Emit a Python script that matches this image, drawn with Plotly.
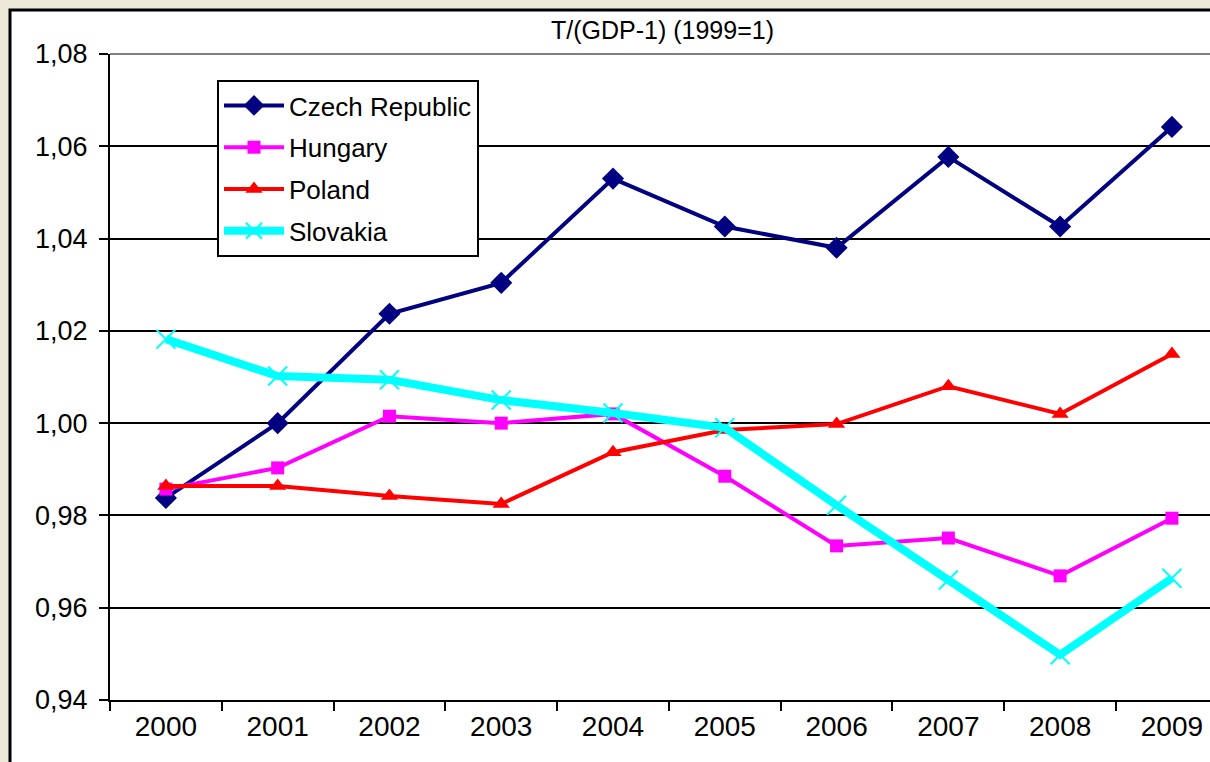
import plotly.graph_objects as go

years = ["2000", "2001", "2002", "2003", "2004", "2005", "2006", "2007", "2008", "2009"]
czech = [0.9838, 1.0000, 1.0237, 1.0304, 1.0530, 1.0426, 1.0380, 1.0577, 1.0426, 1.0642]
hungary = [0.9857, 0.9903, 1.0015, 1.0000, 1.0020, 0.9885, 0.9734, 0.9751, 0.9669, 0.9794]
poland = [0.9864, 0.9864, 0.9842, 0.9825, 0.9937, 0.9985, 0.9998, 1.0080, 1.0020, 1.0150]
slovakia = [1.0182, 1.0102, 1.0094, 1.0050, 1.0022, 0.9990, 0.9822, 0.9660, 0.9498, 0.9664]
yticks = [0.94, 0.96, 0.98, 1.00, 1.02, 1.04, 1.06, 1.08]

W, H = 1210, 762
L, R, T, B = 110, 0, 54, 62
pw, ph = W - L - R, H - T - B

def px(x):
    return (x - L) / pw

def py(y):
    return (H - B - y) / ph

fig = go.Figure()
fig.add_trace(go.Scatter(x=years, y=czech, name="Czech Republic", mode="lines+markers",
                         legendgroup="a",
                         line=dict(color="#000080", width=4),
                         marker=dict(symbol="diamond", size=17, color="#000080")))
fig.add_trace(go.Scatter(x=years, y=hungary, name="Hungary", mode="lines+markers",
                         legendgroup="b",
                         line=dict(color="#FF00FF", width=4),
                         marker=dict(symbol="square", size=13, color="#FF00FF")))
fig.add_trace(go.Scatter(x=years, y=poland, name="Poland", mode="lines+markers",
                         legendgroup="c",
                         line=dict(color="#FF0000", width=4),
                         marker=dict(symbol="triangle-up", size=15, color="#FF0000")))
fig.add_trace(go.Scatter(x=years, y=slovakia, name="Slovakia", mode="lines+markers",
                         legendgroup="d",
                         line=dict(color="#00FFFF", width=8),
                         marker=dict(symbol="x-thin", size=19, color="#00FFFF",
                                     line=dict(color="#00FFFF", width=2))))

fig.update_layout(
    width=W, height=H,
    margin=dict(l=L, r=R, t=T, b=B),
    paper_bgcolor="#ECE9D8",
    plot_bgcolor="white",
    separators=", ",
    font=dict(family="Liberation Sans, Arial, sans-serif", color="black", size=25),
    showlegend=True,
    legend=dict(x=px(217), y=py(80), xanchor="left", yanchor="top",
                bgcolor="white", bordercolor="black", borderwidth=2,
                font=dict(size=26), tracegroupgap=5, itemwidth=60),
    xaxis=dict(type="category", range=[-0.5, -0.5 + pw / 111.78],
               tickson="boundaries", ticks="outside", ticklen=9, tickwidth=2,
               tickcolor="black", showline=True, linecolor="black", linewidth=2,
               showgrid=False, tickfont=dict(size=28), fixedrange=True),
    yaxis=dict(range=[0.94, 1.08], tickvals=yticks, tickformat=".2f",
               ticks="outside", ticklen=9, tickwidth=2, tickcolor="black",
               showline=True, linecolor="black", linewidth=2,
               showgrid=True, gridcolor="black", gridwidth=2,
               zeroline=False, tickfont=dict(size=27), ticklabelstandoff=6),
    shapes=[
        dict(type="rect", xref="paper", yref="paper", layer="below",
             x0=px(10), x1=px(1230), y0=py(790), y1=py(10),
             fillcolor="white", line=dict(color="black", width=3)),
        dict(type="line", xref="paper", yref="paper", layer="above",
             x0=0, x1=1, y0=1, y1=1, line=dict(color="#808080", width=2)),
    ],
    annotations=[
        dict(text="T/(GDP-1) (1999=1)", xref="paper", yref="paper",
             x=px(662), y=py(30), xanchor="center", yanchor="middle",
             showarrow=False, font=dict(size=25)),
    ],
)

fig.write_html("out.html", config={"displayModeBar": False},
               post_script="document.body.style.margin='0';document.body.style.overflow='hidden';")
